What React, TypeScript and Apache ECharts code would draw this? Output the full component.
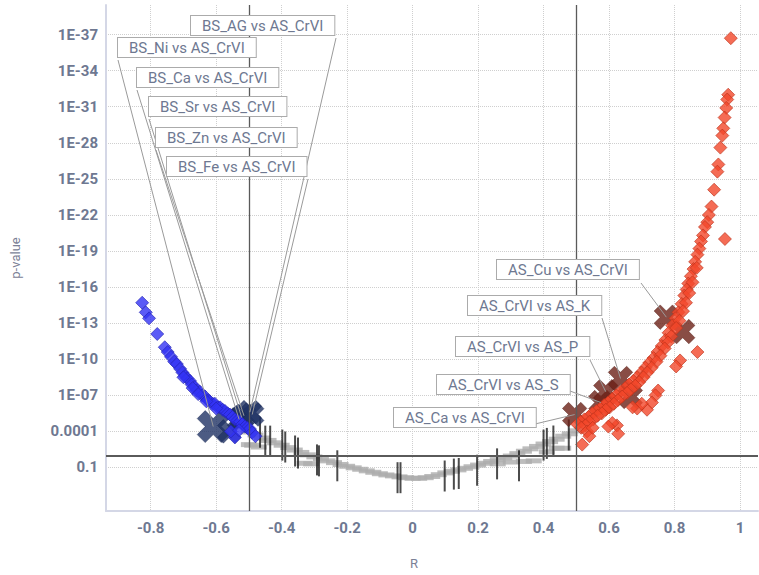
import React, { useEffect, useRef } from 'react';
import * as echarts from 'echarts';

// y values are -log10(p)
const Y_TICK_VALUES = [1, 4, 7, 10, 13, 16, 19, 22, 25, 28, 31, 34, 37];
const Y_TICK_LABELS = ['0.1', '0.0001', '1E-07', '1E-10', '1E-13', '1E-16', '1E-19', '1E-22', '1E-25', '1E-28', '1E-31', '1E-34', '1E-37'];
const X_TICK_VALUES = [-0.8, -0.6, -0.4, -0.2, 0, 0.2, 0.4, 0.6, 0.8, 1];
const X_TICK_LABELS = ['-0.8', '-0.6', '-0.4', '-0.2', '0', '0.2', '0.4', '0.6', '0.8', '1'];
const R_THRESHOLDS = [-0.5, 0.5];
const P_THRESHOLD = 2; // p = 0.01

const BLUE_R = [-0.826, -0.815, -0.805, -0.78, -0.757, -0.748, -0.738, -0.728, -0.72, -0.71, -0.703, -0.695, -0.688, -0.68, -0.675, -0.665, -0.66, -0.65, -0.643, -0.634, -0.625, -0.62, -0.61, -0.604, -0.595, -0.588, -0.58, -0.573, -0.565, -0.558, -0.55, -0.543, -0.535, -0.527, -0.52, -0.512, -0.505, -0.497, -0.49, -0.543, -0.555, -0.53, -0.48, -0.7, -0.672, -0.655, -0.63, -0.6];
const BLUE_V = [14.7, 13.9, 13.4, 12.1, 11.0, 10.6, 10.2, 9.8, 9.6, 9.2, 8.9, 8.6, 8.4, 8.2, 7.9, 7.7, 7.4, 7.3, 7.0, 6.9, 6.6, 6.5, 6.3, 6.3, 6.0, 6.0, 5.8, 5.7, 5.5, 5.4, 5.2, 5.0, 4.9, 4.8, 4.6, 4.4, 4.3, 4.2, 3.9, 3.5, 4.0, 4.1, 3.6, 8.5, 7.6, 7.1, 6.5, 5.9];

const RED_R = [0.972, 0.964, 0.961, 0.958, 0.953, 0.949, 0.946, 0.94, 0.934, 0.931, 0.921, 0.913, 0.954,
  0.905, 0.9, 0.893, 0.887, 0.881, 0.876, 0.87, 0.863, 0.858, 0.85, 0.842, 0.837, 0.83, 0.822, 0.812, 0.803, 0.793, 0.782, 0.772, 0.761, 0.748, 0.736, 0.723, 0.711, 0.699, 0.686, 0.674, 0.661, 0.649, 0.635, 0.622, 0.609, 0.597, 0.585, 0.573, 0.561, 0.549, 0.537, 0.525, 0.513, 0.503,
  0.868, 0.855, 0.845, 0.835, 0.826, 0.815, 0.805, 0.79, 0.78, 0.77, 0.757, 0.745, 0.73, 0.717, 0.705, 0.692, 0.68, 0.667, 0.655, 0.64, 0.627, 0.615, 0.602, 0.59, 0.578, 0.565, 0.552, 0.54, 0.528, 0.515,
  0.87, 0.817, 0.805, 0.75, 0.742, 0.731, 0.716, 0.686, 0.624, 0.61, 0.598, 0.628, 0.533, 0.54, 0.518, 0.55, 0.7, 0.672];
const RED_V = [36.7, 32.0, 31.6, 30.9, 30.1, 29.2, 28.6, 27.6, 26.2, 25.6, 24.1, 22.7, 20.0,
  22.0, 21.4, 21.0, 20.3, 19.8, 19.2, 18.7, 18.1, 17.5, 16.9, 16.3, 15.8, 15.3, 14.6, 13.9, 13.4, 12.8, 12.2, 11.6, 11.1, 10.6, 10.1, 9.7, 9.3, 8.9, 8.5, 8.2, 7.9, 7.6, 7.3, 7.0, 6.7, 6.4, 6.2, 5.9, 5.7, 5.5, 5.2, 5.0, 4.8, 4.6,
  17.6, 16.4, 15.5, 14.7, 14.0, 13.2, 12.6, 11.9, 11.4, 10.9, 10.3, 9.8, 9.3, 8.9, 8.5, 8.1, 7.8, 7.5, 7.2, 6.9, 6.6, 6.3, 6.0, 5.8, 5.5, 5.3, 5.0, 4.8, 4.5, 4.3,
  10.6, 9.9, 9.4, 7.4, 7.0, 6.4, 5.8, 5.9, 4.5, 4.7, 4.4, 3.8, 4.0, 3.6, 2.9, 4.3, 6.3, 6.0];

const GRAY_R = [-0.5, -0.48, -0.46, -0.44, -0.42, -0.4, -0.38, -0.36, -0.34, -0.32, -0.3, -0.28, -0.26, -0.24, -0.22, -0.2, -0.18, -0.16, -0.14, -0.12, -0.1, -0.08, -0.06, -0.04, -0.02, 0, 0.02, 0.04, 0.06, 0.08, 0.1, 0.12, 0.14, 0.16, 0.18, 0.2, 0.22, 0.24, 0.26, 0.28, 0.3, 0.32, 0.34, 0.36, 0.38, 0.4, 0.42, 0.44, 0.46, 0.48, 0.5,
  -0.5, -0.49, -0.47, -0.33, -0.31, 0.26, 0.3, 0.34, 0.37, 0.41, 0.44, 0.46];
const GRAY_V = [3.95, 3.7, 3.45, 3.25, 3.05, 2.85, 2.65, 2.45, 2.25, 2.05, 1.88, 1.7, 1.55, 1.4, 1.25, 1.1, 0.97, 0.85, 0.72, 0.6, 0.48, 0.38, 0.3, 0.22, 0.15, 0.1, 0.1, 0.15, 0.25, 0.4, 0.55, 0.68, 0.8, 0.93, 1.06, 1.2, 1.35, 1.5, 1.65, 1.8, 1.95, 2.15, 2.35, 2.55, 2.75, 2.95, 3.15, 3.35, 3.6, 3.8, 4.05,
  2.9, 2.85, 2.7, 1.35, 1.3, 1.3, 1.45, 1.5, 1.55, 2.3, 2.6, 2.6];

const BAR_R = [-0.466, -0.45, -0.435, -0.398, -0.389, -0.359, -0.35, -0.292, -0.286, -0.23, -0.046, -0.037, 0.098, 0.126, 0.141, 0.197, 0.258, 0.325, 0.4, 0.41, 0.43, 0.477];
const BAR_V = [3.93, 3.19, 3.19, 2.86, 2.7, 2.37, 2.2, 1.63, 1.55, 1.14, 0.15, 0.15, 0.29, 0.45, 0.5, 0.77, 1.3, 1.14, 2.86, 3.0, 3.2, 3.7];

const BS_NAMES = ['BS_Ni vs AS_CrVI', '', 'BS_Ca vs AS_CrVI', 'BS_Sr vs AS_CrVI', 'BS_Zn vs AS_CrVI', 'BS_AG vs AS_CrVI', 'BS_Fe vs AS_CrVI'];
const BS_R = [-0.609, -0.56, -0.53, -0.522, -0.515, -0.497, -0.49];
const BS_V = [4.4, 4.0, 5.0, 5.15, 5.3, 5.6, 5.4];

const AS_NAMES = ['AS_Ca vs AS_CrVI', 'AS_CrVI vs AS_S', 'AS_CrVI vs AS_P', 'AS_CrVI vs AS_K', '', 'AS_Cu vs AS_CrVI', ''];
const AS_R = [0.495, 0.575, 0.59, 0.635, 0.665, 0.775, 0.825];
const AS_V = [5.4, 6.4, 7.3, 8.4, 6.9, 13.5, 12.3];

// annotation box layout (pixels): box top-left and leader-line anchor
const LABEL_LAYOUT: Record<string, { left: number; top: number; ax: number; ay: number }> = {
  'BS_AG vs AS_CrVI': { left: 191, top: 16, ax: 336, ay: 38 },
  'BS_Ni vs AS_CrVI': { left: 118, top: 38, ax: 118, ay: 60 },
  'BS_Ca vs AS_CrVI': { left: 137, top: 68, ax: 137, ay: 90 },
  'BS_Sr vs AS_CrVI': { left: 149, top: 97, ax: 149, ay: 119 },
  'BS_Zn vs AS_CrVI': { left: 156, top: 128, ax: 156, ay: 150 },
  'BS_Fe vs AS_CrVI': { left: 167, top: 157, ax: 308, ay: 179 },
  'AS_Cu vs AS_CrVI': { left: 497, top: 260, ax: 641, ay: 283 },
  'AS_CrVI vs AS_K': { left: 468, top: 296, ax: 602, ay: 318 },
  'AS_CrVI vs AS_P': { left: 456, top: 337, ax: 590, ay: 360 },
  'AS_CrVI vs AS_S': { left: 437, top: 375, ax: 570, ay: 391 },
  'AS_Ca vs AS_CrVI': { left: 394, top: 408, ax: 535, ay: 424 },
};

const zip = (a: number[], b: number[]) => a.map((v, i) => [v, b[i]]);
const CROSS = 'path://M-1,-3L1,-3L1,-1L3,-1L3,1L1,1L1,3L-1,3L-1,1L-3,1L-3,-1L-1,-1Z';
const TEXT_COLOR = '#6e7891';

export default function App() {
  const ref = useRef<HTMLDivElement>(null);
  useEffect(() => {
    const chart = echarts.init(ref.current!, undefined, { renderer: 'svg' });
    const option: any = {
      animation: false,
      grid: { left: 106, right: 1, top: 5, bottom: 57 },
      xAxis: {
        type: 'value', min: -0.9365, max: 1.055,
        name: 'R', nameLocation: 'middle', nameGap: 46,
        nameTextStyle: { color: '#7b8196', fontSize: 13, fontFamily: 'Roboto', padding: [0, 36, 0, 0] },
        axisLine: { show: true, onZero: false, lineStyle: { color: '#d4d7e6', width: 2 } },
        axisTick: { show: false, customValues: X_TICK_VALUES },
        axisLabel: {
          customValues: X_TICK_VALUES, color: TEXT_COLOR, fontSize: 15, fontWeight: 'bold', fontFamily: 'Roboto', margin: 9,
          formatter: (v: number) => { const i = X_TICK_VALUES.findIndex((t) => Math.abs(t - v) < 1e-6); return i >= 0 ? X_TICK_LABELS[i] : ''; },
        },
        splitLine: { show: true, lineStyle: { color: '#cfcfcf', type: 'dotted', width: 1 } },
      },
      yAxis: {
        type: 'value', min: -2.62, max: 39.46,
        name: 'p-value', nameLocation: 'middle', nameGap: 84,
        nameTextStyle: { color: '#7b8196', fontSize: 13, fontFamily: 'Roboto' },
        axisLine: { show: true, onZero: false, lineStyle: { color: '#d4d7e6', width: 2 } },
        axisTick: { show: false, customValues: Y_TICK_VALUES },
        axisLabel: {
          customValues: Y_TICK_VALUES, color: TEXT_COLOR, fontSize: 15, fontWeight: 'bold', fontFamily: 'Roboto', margin: 8,
          formatter: (v: number) => { const i = Y_TICK_VALUES.findIndex((t) => Math.abs(t - v) < 1e-6); return i >= 0 ? Y_TICK_LABELS[i] : ''; },
        },
        splitLine: { show: true, lineStyle: { color: '#cfcfcf', type: 'dotted', width: 1 } },
      },
      series: [
        {
          type: 'scatter', name: 'ns', symbol: 'rect', symbolSize: [16, 5], z: 1,
          itemStyle: { color: '#acacac' },
          data: zip(GRAY_R, GRAY_V),
          markLine: {
            silent: true, symbol: 'none', label: { show: false },
            data: [
              ...R_THRESHOLDS.map((x) => ({ xAxis: x, lineStyle: { color: '#5a5a5a', width: 1.3, type: 'solid' } })),
              { yAxis: P_THRESHOLD, lineStyle: { color: '#5a5a5a', width: 2, type: 'solid' } },
            ],
          },
        },
        {
          type: 'scatter', name: 'bars', symbol: 'rect', symbolSize: [2, 31], z: 2,
          itemStyle: { color: '#1e1e1e' },
          data: zip(BAR_R, BAR_V),
        },
        {
          type: 'scatter', name: 'bsx', symbol: CROSS, symbolRotate: 45, z: 3,
          symbolSize: (_v: any, p: any) => (p.dataIndex === 0 ? 34 : 25),
          itemStyle: { color: '#1f3264', borderColor: '#172650', borderWidth: 0.5 },
          data: zip(BS_R, BS_V),
        },
        {
          type: 'scatter', name: 'asx', symbol: CROSS, symbolRotate: 45, symbolSize: 26, z: 3,
          itemStyle: { color: '#6b2117', borderColor: '#501810', borderWidth: 0.5 },
          data: zip(AS_R, AS_V),
        },
        {
          type: 'scatter', name: 'neg', symbol: 'diamond', symbolSize: 13, z: 4,
          itemStyle: { color: '#3232f4', borderColor: '#2222b0', borderWidth: 0.8 },
          data: zip(BLUE_R, BLUE_V),
        },
        {
          type: 'scatter', name: 'pos', symbol: 'diamond', symbolSize: 13, z: 4,
          itemStyle: { color: '#f2472a', borderColor: '#b93119', borderWidth: 0.8 },
          data: zip(RED_R, RED_V),
        },
      ],
    };
    chart.setOption(option);

    const graphics: any[] = [];
    const addLabels = (names: string[], rs: number[], vs: number[]) => {
      names.forEach((n, i) => {
        if (!n) return;
        const lay = LABEL_LAYOUT[n];
        const pt = chart.convertToPixel({ xAxisIndex: 0, yAxisIndex: 0 }, [rs[i], vs[i]]) as number[];
        graphics.push({
          type: 'line', z: 50, silent: true,
          shape: { x1: lay.ax, y1: lay.ay, x2: pt[0], y2: pt[1] },
          style: { stroke: '#9a9a9a', lineWidth: 1 },
        });
        graphics.push({
          type: 'text', z: 60, silent: true, x: lay.left, y: lay.top,
          style: {
            text: n, font: '15px Roboto', fill: TEXT_COLOR,
            backgroundColor: '#ffffff', borderColor: '#ababab', borderWidth: 1, padding: [2, 11, 2, 11],
          },
        });
      });
    };
    addLabels(BS_NAMES, BS_R, BS_V);
    addLabels(AS_NAMES, AS_R, AS_V);
    chart.setOption({ graphic: graphics });

    return () => chart.dispose();
  }, []);
  return <div ref={ref} style={{ position: 'absolute', left: 0, top: 0, width: 759, height: 575 }} />;
}
